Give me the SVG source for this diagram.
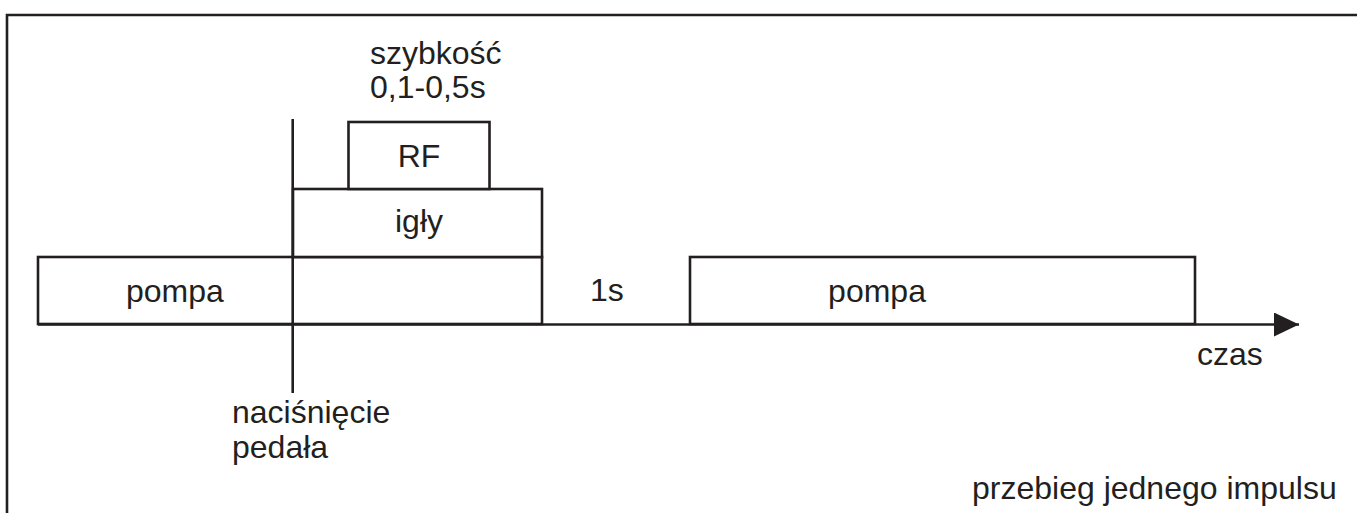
<svg xmlns="http://www.w3.org/2000/svg" width="1357" height="513" viewBox="0 0 1357 513">
<style>
.ln{stroke:#231f20;stroke-width:2.6;fill:none}
.bx{stroke:#231f20;stroke-width:2.6;fill:#fff}
.t{font-family:"Liberation Sans",Arial,sans-serif;font-size:32px;fill:#231f20}
.m{text-anchor:middle}
</style>
<defs>
<marker id="arr" markerUnits="userSpaceOnUse" markerWidth="26" markerHeight="24" refX="25" refY="12" orient="auto">
<path d="M0,0 L25,12 L0,24 Z" fill="#231f20"/>
</marker>
</defs>
<rect width="1357" height="513" fill="#fff"/>
<g id="frame">
<path class="ln" d="M7,513 V15 H1357" stroke-width="3"/>
</g>
<g id="node-pompa1"><rect class="bx" x="38" y="257" width="504" height="67"/><text class="t" x="126" y="302">pompa</text></g>
<g id="node-igly"><rect class="bx" x="293" y="189" width="249" height="68"/><text class="t m" x="419" y="232">igły</text></g>
<g id="node-rf"><rect class="bx" x="348.5" y="122" width="141" height="67"/><text class="t m" x="419" y="167">RF</text></g>
<g id="node-pompa2"><rect class="bx" x="690" y="257" width="505" height="67"/><text class="t m" x="877" y="302">pompa</text></g>
<g id="connectors">
<path class="ln" d="M38,324.5 H1299" marker-end="url(#arr)"/>
<path class="ln" d="M292.7,119 V393" stroke-width="2.2"/>
</g>
<g id="labels">
<text class="t" x="370" y="64">szybkość</text>
<text class="t" x="370" y="98">0,1-0,5s</text>
<text class="t" x="590" y="301">1s</text>
<text class="t" x="1197" y="365">czas</text>
<text class="t" x="232" y="423">naciśnięcie</text>
<text class="t" x="232" y="458">pedała</text>
<text class="t" x="972" y="499">przebieg jednego impulsu</text>
</g>
</svg>
